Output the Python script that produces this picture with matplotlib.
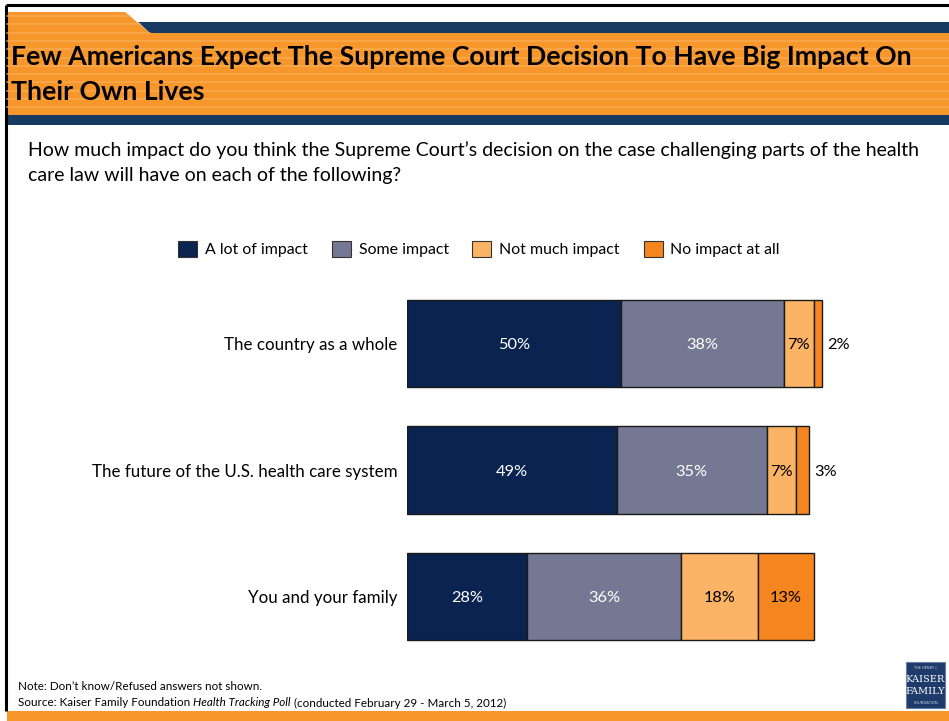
import numpy as np
import matplotlib
matplotlib.use("Agg")
import matplotlib.pyplot as plt
from matplotlib.patches import Rectangle, Polygon, Patch

plt.rcParams["font.family"] = ["Lato", "DejaVu Sans"]

categories = ["The country as a whole",
              "The future of the U.S. health care system",
              "You and your family"]
series_names = ["A lot of impact", "Some impact", "Not much impact", "No impact at all"]
a_lot = [50, 49, 28]
some = [38, 35, 36]
not_much = [7, 7, 18]
none_at_all = [2, 3, 13]

bar_colors = ["#0b2350", "#757892", "#fbb465", "#f5861f"]
label_colors = ["white", "white", "black", "black"]
orange = "#f7962a"
navy = "#173a63"

fig = plt.figure(figsize=(9.49, 7.21), dpi=100)

# background decoration in pixel space
deco = fig.add_axes([0, 0, 1, 1], zorder=0)
deco.set_xlim(0, 949)
deco.set_ylim(721, 0)
deco.axis("off")

# page frame (top + left only)
deco.plot([6, 949], [5, 5], color="black", lw=2.2, solid_capstyle="butt")
deco.plot([6, 6], [5, 711], color="black", lw=2.2, solid_capstyle="butt")

# header: orange tab, navy strip, orange title block, navy strip
deco.add_patch(Polygon([(7, 12), (125, 12), (150, 33), (7, 33)], closed=True,
                       facecolor=orange, edgecolor="none"))
deco.add_patch(Polygon([(138, 22), (949, 22), (949, 33), (150, 33)], closed=True,
                       facecolor=navy, edgecolor="none"))
deco.add_patch(Rectangle((7, 33), 942, 82, facecolor=orange, edgecolor="none"))
for y in np.arange(16, 115, 8.3):
    x0 = 7
    x1 = 949 if y >= 33 else 125 + (y - 12) * 25 / 21
    deco.plot([x0, x1], [y, y], color="#f9b05c", lw=1.1, alpha=0.8)
deco.add_patch(Rectangle((7, 115), 942, 10, facecolor=navy, edgecolor="none"))

# footer strip
deco.add_patch(Rectangle((7, 711), 942, 10, facecolor=orange, edgecolor="none"))

# logo box
deco.add_patch(Rectangle((906, 662), 39, 46, facecolor="#1f3b6b", edgecolor="#6a7fa3", lw=0.8))
deco.text(925.5, 668, "THE HENRY J.", color="#c8d2e4", fontsize=2.6, ha="center", va="center")
deco.text(925.5, 680, "KAISER", color="white", fontsize=7, ha="center", va="center",
          family="DejaVu Serif")
deco.text(925.5, 692, "FAMILY", color="white", fontsize=7, ha="center", va="center",
          family="DejaVu Serif")
deco.text(925.5, 703, "FOUNDATION", color="#c8d2e4", fontsize=2.6, ha="center", va="center")

# title and question
deco.text(11, 57, "Few Americans Expect The Supreme Court Decision To Have Big Impact On",
          fontsize=19.2, fontweight="bold", color="black", va="center", ha="left")
deco.text(11, 92, "Their Own Lives",
          fontsize=19.2, fontweight="bold", color="black", va="center", ha="left")
deco.text(28, 150, "How much impact do you think the Supreme Court\u2019s decision on the case "
          "challenging parts of the health", fontsize=14, va="center", ha="left")
deco.text(28, 176, "care law will have on each of the following?", fontsize=14,
          va="center", ha="left")

# footnotes
deco.text(18, 687, "Note: Don\u2019t know/Refused answers not shown.", fontsize=8.4,
          va="center", ha="left")
renderer = fig.canvas.get_renderer()
parts = [("Source: Kaiser Family Foundation ", "normal"),
         ("Health Tracking Poll", "italic"),
         (" (conducted February 29 - March 5, 2012)", "normal")]
x = 18
for txt, style in parts:
    t = deco.text(x, 703, txt, fontsize=8.4, style=style, va="center", ha="left")
    bb = t.get_window_extent(renderer=renderer)
    x += bb.width

# stacked bars
ax = fig.add_axes([407 / 949, 61.25 / 721, 428 / 949, 379.5 / 721], zorder=1)
ax.patch.set_alpha(0)
ypos = np.arange(len(categories))
series = [a_lot, some, not_much, none_at_all]
left = np.zeros(len(categories))
for vals, name, col, lcol in zip(series, series_names, bar_colors, label_colors):
    vals = np.array(vals, dtype=float)
    ax.barh(ypos, vals, left=left, height=0.688, color=col, edgecolor="#1a1a1a",
            linewidth=1.0, label=name)
    for i, v in enumerate(vals):
        if v >= 5:
            ax.text(left[i] + v / 2, ypos[i] + 0.015, f"{v:.0f}%", color=lcol, fontsize=11.8,
                    ha="center", va="center")
        else:
            ax.text(left[i] + v + 1.2, ypos[i] + 0.015, f"{v:.0f}%", color="black",
                    fontsize=11.8, ha="left", va="center")
    left += vals

ax.set_xlim(0, 100)
ax.set_ylim(len(categories) - 0.5, -0.5)
ax.set_yticks(ypos)
ax.set_yticklabels(categories, fontsize=12.2)
ax.tick_params(axis="y", length=0, pad=7)
ax.set_xticks([])
for s in ax.spines.values():
    s.set_visible(False)

handles = [Patch(facecolor=c, edgecolor="#333333", linewidth=0.8) for c in bar_colors]
fig.legend(handles, series_names, loc="center", bbox_to_anchor=(479 / 949, 1 - 249 / 721),
           ncol=4, frameon=False, fontsize=11.4, handlelength=1.2, handleheight=1.2,
           handletextpad=0.5, columnspacing=1.5)

fig.savefig("out.png", dpi=100)
